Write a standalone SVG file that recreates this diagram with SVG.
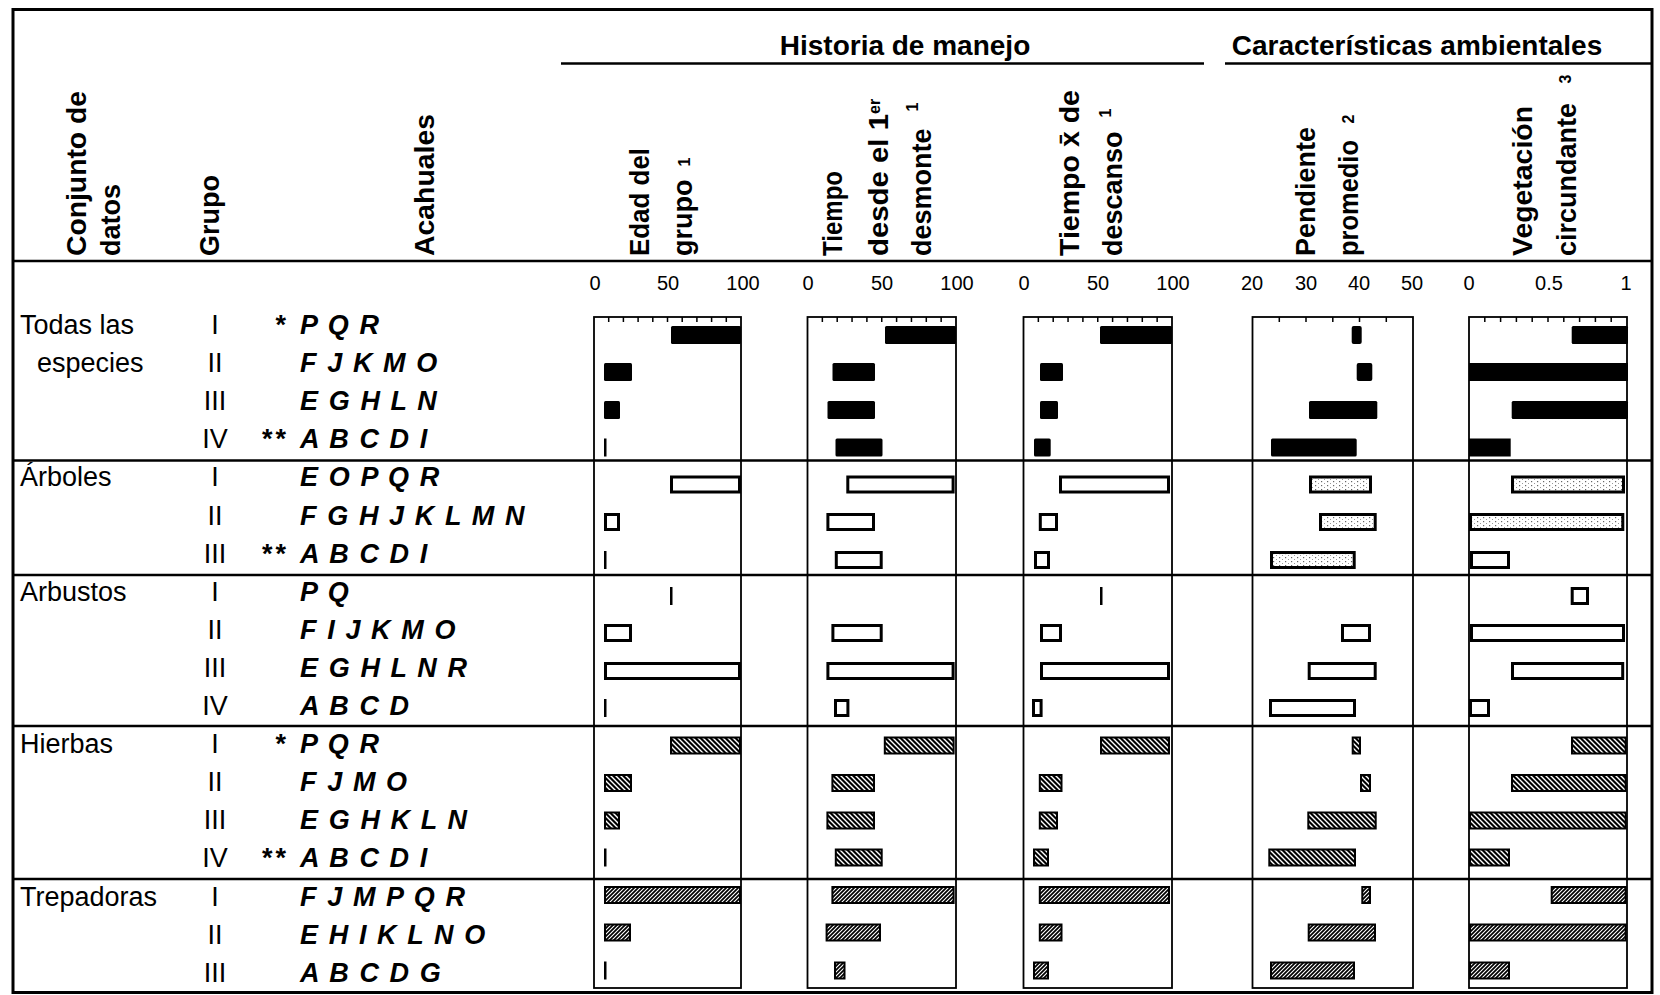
<svg xmlns="http://www.w3.org/2000/svg" width="1660" height="995" viewBox="0 0 1660 995">
<style>
text{font-family:"Liberation Sans",Arial,"DejaVu Sans",sans-serif;fill:#000}
.hdr{font-weight:bold;font-size:27px}
.ttl{font-weight:bold;font-size:28px;text-anchor:middle}
.sup{font-weight:bold;font-size:16px;text-anchor:middle}
.lab{font-size:27px}
.num{font-size:27px;text-anchor:middle}
.ast{font-size:27px;font-weight:bold;text-anchor:end;letter-spacing:3px}
.acs{font-size:27px;font-weight:bold;font-style:italic;letter-spacing:1.6px}
.ax{font-size:20px;text-anchor:middle}
.frame{fill:none;stroke:#000;stroke-width:3}
.rule{stroke:#000;stroke-width:2.5}
.box{fill:none;stroke:#000;stroke-width:1.8}
.tk{stroke:#000;stroke-width:1.5}
.blk{fill:#000}
.opn{fill:#fff;stroke:#000;stroke-width:3}
.stp{fill:url(#st);stroke:#000;stroke-width:3}
.hb{fill:url(#hB);stroke:#000;stroke-width:2}
.hf{fill:url(#hF);stroke:#000;stroke-width:2}
</style>
<defs>
<pattern id="hB" width="5" height="5" patternUnits="userSpaceOnUse">
<rect width="5" height="5" fill="#000"/>
<path d="M0,0 L5,5 M-1,4 L1,6 M4,-1 L6,1" stroke="#fff" stroke-width="1.4"/>
</pattern>
<pattern id="hF" width="4" height="4" patternUnits="userSpaceOnUse">
<rect width="4" height="4" fill="#000"/>
<path d="M0,4 L4,0 M-1,1 L1,-1 M3,5 L5,3" stroke="#fff" stroke-width="1.1"/>
</pattern>
<pattern id="st" width="6" height="4" patternUnits="userSpaceOnUse">
<rect width="6" height="4" fill="#fff"/>
<rect x="1" y="1" width="1.2" height="1.2" fill="#666"/>
<rect x="4" y="3" width="1" height="1" fill="#999"/>
</pattern>
</defs>
<rect width="1660" height="995" fill="#fff"/>

<g id="frame">
<rect class="frame" x="13" y="9.5" width="1639" height="983"/>
<line class="rule" x1="13" y1="261" x2="1652" y2="261"/>
<line class="rule" x1="561" y1="63.5" x2="1204" y2="63.5"/>
<line class="rule" x1="1225" y1="63.5" x2="1652" y2="63.5"/>
</g>

<g id="header">
<text class="ttl" x="905" y="55">Historia de manejo</text>
<text class="ttl" x="1417" y="55">Características ambientales</text>
<text class="hdr" transform="translate(86,256) rotate(-90)" textLength="165" lengthAdjust="spacingAndGlyphs">Conjunto de</text>
<text class="hdr" transform="translate(120,256) rotate(-90)">datos</text>
<text class="hdr" transform="translate(219,256) rotate(-90)">Grupo</text>
<text class="hdr" transform="translate(434,256) rotate(-90)" textLength="142" lengthAdjust="spacingAndGlyphs">Acahuales</text>
<text class="hdr" transform="translate(649,256) rotate(-90)" textLength="108" lengthAdjust="spacingAndGlyphs">Edad del</text>
<text class="hdr" transform="translate(692,256) rotate(-90)">grupo</text>
<text class="sup" transform="translate(690,162) rotate(-90)">1</text>
<text class="hdr" transform="translate(842,256) rotate(-90)" textLength="85" lengthAdjust="spacingAndGlyphs">Tiempo</text>
<text class="hdr" transform="translate(888,256) rotate(-90)"><tspan textLength="142" lengthAdjust="spacingAndGlyphs">desde el 1</tspan><tspan font-size="16" dy="-8">er</tspan></text>
<text class="hdr" transform="translate(931,256) rotate(-90)">desmonte</text>
<text class="sup" transform="translate(918,107) rotate(-90)">1</text>
<text class="hdr" transform="translate(1079,256) rotate(-90)" textLength="166" lengthAdjust="spacingAndGlyphs">Tiempo x̄ de</text>
<text class="hdr" transform="translate(1122,256) rotate(-90)">descanso</text>
<text class="sup" transform="translate(1111,113) rotate(-90)">1</text>
<text class="hdr" transform="translate(1315,256) rotate(-90)">Pendiente</text>
<text class="hdr" transform="translate(1358,256) rotate(-90)" textLength="116" lengthAdjust="spacingAndGlyphs">promedio</text>
<text class="sup" transform="translate(1354,119) rotate(-90)">2</text>
<text class="hdr" transform="translate(1532,256) rotate(-90)" textLength="150" lengthAdjust="spacingAndGlyphs">Vegetación</text>
<text class="hdr" transform="translate(1576,256) rotate(-90)">circundante</text>
<text class="sup" transform="translate(1571,79) rotate(-90)">3</text>
</g>

<g id="rules">
<line class="rule" x1="13" y1="460.5" x2="1652" y2="460.5"/>
<line class="rule" x1="13" y1="575" x2="1652" y2="575"/>
<line class="rule" x1="13" y1="726" x2="1652" y2="726"/>
<line class="rule" x1="13" y1="879" x2="1652" y2="879"/>
</g>

<g id="set-todas">
<text class="lab" x="20" y="334">Todas las</text>
<text class="lab" x="37" y="372.1">especies</text>
<text class="num" x="215" y="334">I</text>
<text class="num" x="215" y="372.1">II</text>
<text class="num" x="215" y="410.2">III</text>
<text class="num" x="215" y="448.3">IV</text>
<text class="ast" x="289" y="334">*</text>
<text class="ast" x="289" y="448.3">**</text>
<text class="acs" x="300" y="334">P Q R</text>
<text class="acs" x="300" y="372.1">F J K M O</text>
<text class="acs" x="300" y="410.2">E G H L N</text>
<text class="acs" x="300" y="448.3">A B C D I</text>
</g>

<g id="set-arboles">
<text class="lab" x="20" y="486.4">Árboles</text>
<text class="num" x="215" y="486.4">I</text>
<text class="num" x="215" y="524.5">II</text>
<text class="num" x="215" y="562.6">III</text>
<text class="ast" x="289" y="562.6">**</text>
<text class="acs" x="300" y="486.4">E O P Q R</text>
<text class="acs" x="300" y="524.5">F G H J K L M N</text>
<text class="acs" x="300" y="562.6">A B C D I</text>
</g>

<g id="set-arbustos">
<text class="lab" x="20" y="600.7">Arbustos</text>
<text class="num" x="215" y="600.7">I</text>
<text class="num" x="215" y="638.8">II</text>
<text class="num" x="215" y="676.9">III</text>
<text class="num" x="215" y="715">IV</text>
<text class="acs" x="300" y="600.7">P Q</text>
<text class="acs" x="300" y="638.8">F I J K M O</text>
<text class="acs" x="300" y="676.9">E G H L N R</text>
<text class="acs" x="300" y="715">A B C D</text>
</g>

<g id="set-hierbas">
<text class="lab" x="20" y="753.1">Hierbas</text>
<text class="num" x="215" y="753.1">I</text>
<text class="num" x="215" y="791.2">II</text>
<text class="num" x="215" y="829.3">III</text>
<text class="num" x="215" y="867.4">IV</text>
<text class="ast" x="289" y="753.1">*</text>
<text class="ast" x="289" y="867.4">**</text>
<text class="acs" x="300" y="753.1">P Q R</text>
<text class="acs" x="300" y="791.2">F J M O</text>
<text class="acs" x="300" y="829.3">E G H K L N</text>
<text class="acs" x="300" y="867.4">A B C D I</text>
</g>

<g id="set-trepadoras">
<text class="lab" x="20" y="905.5">Trepadoras</text>
<text class="num" x="215" y="905.5">I</text>
<text class="num" x="215" y="943.6">II</text>
<text class="num" x="215" y="981.7">III</text>
<text class="acs" x="300" y="905.5">F J M P Q R</text>
<text class="acs" x="300" y="943.6">E H I K L N O</text>
<text class="acs" x="300" y="981.7">A B C D G</text>
</g>

<g id="panel-edad">
<text class="ax" x="595" y="290">0</text>
<text class="ax" x="668" y="290">50</text>
<text class="ax" x="743" y="290">100</text>
<rect class="box" x="594" y="317" width="147" height="671"/>
<path class="tk" d="M608.7,317v5M623.4,317v5M638.1,317v5M652.8,317v5M667.5,317v5M682.2,317v5M696.9,317v5M711.6,317v5M726.3,317v5"/>
<rect class="blk" x="671" y="326" width="70" height="18" rx="1.5"/>
<rect class="blk" x="604" y="363" width="28" height="18" rx="1.5"/>
<rect class="blk" x="604" y="401" width="16" height="18" rx="1.5"/>
<rect class="blk" x="604" y="438.5" width="2.5" height="18"/>
<rect class="opn" x="671.5" y="477" width="68" height="15"/>
<rect class="opn" x="605.5" y="514.5" width="13" height="15"/>
<rect class="blk" x="604" y="551" width="2.5" height="18"/>
<rect class="blk" x="670" y="587" width="2.5" height="18"/>
<rect class="opn" x="605.5" y="625.5" width="25" height="15"/>
<rect class="opn" x="605.5" y="663.5" width="134" height="15"/>
<rect class="blk" x="604" y="699" width="2.5" height="18"/>
<rect class="hb" x="671" y="737.5" width="69" height="16"/>
<rect class="hb" x="605" y="775" width="26" height="16"/>
<rect class="hb" x="605" y="812.5" width="14" height="16"/>
<rect class="blk" x="604" y="848.5" width="2.5" height="18"/>
<rect class="hf" x="605" y="887" width="135" height="16"/>
<rect class="hf" x="605" y="924.5" width="25" height="16"/>
<rect class="blk" x="604" y="961.5" width="2.5" height="18"/>
</g>

<g id="panel-desmonte">
<text class="ax" x="808" y="290">0</text>
<text class="ax" x="882" y="290">50</text>
<text class="ax" x="957" y="290">100</text>
<rect class="box" x="807.5" y="317" width="148.5" height="671"/>
<path class="tk" d="M822.35,317v5M837.2,317v5M852.05,317v5M866.9,317v5M881.75,317v5M896.6,317v5M911.45,317v5M926.3,317v5M941.15,317v5"/>
<rect class="blk" x="885" y="326" width="71" height="18" rx="1.5"/>
<rect class="blk" x="832.5" y="363" width="42.5" height="18" rx="1.5"/>
<rect class="blk" x="827.5" y="401" width="47.5" height="18" rx="1.5"/>
<rect class="blk" x="835.5" y="438.5" width="47" height="18" rx="1.5"/>
<rect class="opn" x="847.8" y="477" width="105.3" height="15"/>
<rect class="opn" x="827.9" y="514.5" width="45.6" height="15"/>
<rect class="opn" x="836.3" y="552.5" width="44.9" height="15"/>
<rect class="opn" x="832.9" y="625.5" width="48.3" height="15"/>
<rect class="opn" x="827.9" y="663.5" width="125.2" height="15"/>
<rect class="opn" x="835.5" y="700.5" width="12.4" height="15"/>
<rect class="hb" x="884.8" y="737.5" width="68.8" height="16"/>
<rect class="hb" x="832.4" y="775" width="41.6" height="16"/>
<rect class="hb" x="827.4" y="812.5" width="46.6" height="16"/>
<rect class="hb" x="835.8" y="849.5" width="45.9" height="16"/>
<rect class="hf" x="832.4" y="887" width="121.2" height="16"/>
<rect class="hf" x="826.6" y="924.5" width="53.4" height="16"/>
<rect class="hf" x="835" y="962.5" width="9.5" height="16"/>
</g>

<g id="panel-descanso">
<text class="ax" x="1024" y="290">0</text>
<text class="ax" x="1098" y="290">50</text>
<text class="ax" x="1173" y="290">100</text>
<rect class="box" x="1023.5" y="317" width="148.5" height="671"/>
<path class="tk" d="M1038.35,317v5M1053.2,317v5M1068.05,317v5M1082.9,317v5M1097.75,317v5M1112.6,317v5M1127.45,317v5M1142.3,317v5M1157.15,317v5"/>
<rect class="blk" x="1100" y="326" width="72" height="18" rx="1.5"/>
<rect class="blk" x="1040" y="363" width="23" height="18" rx="1.5"/>
<rect class="blk" x="1040" y="401" width="18" height="18" rx="1.5"/>
<rect class="blk" x="1034" y="438.5" width="16.7" height="18" rx="1.5"/>
<rect class="opn" x="1060.5" y="477" width="108" height="15"/>
<rect class="opn" x="1040.3" y="514.5" width="16.2" height="15"/>
<rect class="opn" x="1035.5" y="552.5" width="13" height="15"/>
<rect class="blk" x="1100" y="587" width="2.5" height="18"/>
<rect class="opn" x="1041.5" y="625.5" width="19" height="15"/>
<rect class="opn" x="1041.5" y="663.5" width="127" height="15"/>
<rect class="opn" x="1033.5" y="700.5" width="7.6" height="15"/>
<rect class="hb" x="1101" y="737.5" width="68" height="16"/>
<rect class="hb" x="1039.8" y="775" width="21.7" height="16"/>
<rect class="hb" x="1039.8" y="812.5" width="17.2" height="16"/>
<rect class="hb" x="1034" y="849.5" width="14" height="16"/>
<rect class="hf" x="1039.8" y="887" width="129.2" height="16"/>
<rect class="hf" x="1039.8" y="924.5" width="21.7" height="16"/>
<rect class="hf" x="1034" y="962.5" width="14" height="16"/>
</g>

<g id="panel-pendiente">
<text class="ax" x="1252" y="290">20</text>
<text class="ax" x="1306" y="290">30</text>
<text class="ax" x="1359" y="290">40</text>
<text class="ax" x="1412" y="290">50</text>
<rect class="box" x="1252.5" y="317" width="160.5" height="671"/>
<path class="tk" d="M1279.3,317v5M1306,317v5M1332.8,317v5M1359.5,317v5M1386.3,317v5"/>
<rect class="blk" x="1351.7" y="326" width="10" height="18" rx="2"/>
<rect class="blk" x="1356.7" y="363" width="15.6" height="18" rx="2"/>
<rect class="blk" x="1309" y="401" width="68.3" height="18" rx="1.5"/>
<rect class="blk" x="1271" y="438.5" width="85.7" height="18" rx="1.5"/>
<rect class="stp" x="1310.5" y="477" width="60" height="15"/>
<rect class="stp" x="1320.5" y="514.5" width="54.7" height="15"/>
<rect class="stp" x="1271.5" y="552.5" width="82.7" height="15"/>
<rect class="opn" x="1342.5" y="625.5" width="27" height="15"/>
<rect class="opn" x="1309.2" y="663.5" width="66" height="15"/>
<rect class="opn" x="1270.5" y="700.5" width="84" height="15"/>
<rect class="hb" x="1352.7" y="737.5" width="7.3" height="16"/>
<rect class="hb" x="1361" y="775" width="9" height="16"/>
<rect class="hb" x="1308.3" y="812.5" width="67.4" height="16"/>
<rect class="hb" x="1269.3" y="849.5" width="85.7" height="16"/>
<rect class="hf" x="1362.3" y="887" width="7.7" height="16"/>
<rect class="hf" x="1308.7" y="924.5" width="66.3" height="16"/>
<rect class="hf" x="1271" y="962.5" width="83" height="16"/>
</g>

<g id="panel-vegetacion">
<text class="ax" x="1469" y="290">0</text>
<text class="ax" x="1549" y="290">0.5</text>
<text class="ax" x="1626" y="290">1</text>
<rect class="box" x="1469" y="317" width="158" height="671"/>
<path class="tk" d="M1484.8,317v5M1500.6,317v5M1516.4,317v5M1532.2,317v5M1548,317v5M1563.8,317v5M1579.6,317v5M1595.4,317v5M1611.2,317v5"/>
<rect class="blk" x="1571.7" y="326" width="56.3" height="18" rx="1.5"/>
<rect class="blk" x="1469" y="363" width="159" height="18"/>
<rect class="blk" x="1511.7" y="401" width="116.3" height="18" rx="1.5"/>
<rect class="blk" x="1469" y="438.5" width="41.7" height="18"/>
<rect class="stp" x="1512.5" y="477" width="111" height="15"/>
<rect class="stp" x="1470.5" y="514.5" width="152.3" height="15"/>
<rect class="opn" x="1471.5" y="552.5" width="37" height="15"/>
<rect class="opn" x="1572.2" y="588.5" width="15.3" height="15"/>
<rect class="opn" x="1471.5" y="625.5" width="152" height="15"/>
<rect class="opn" x="1512.5" y="663.5" width="110.2" height="15"/>
<rect class="opn" x="1470.5" y="700.5" width="18" height="15"/>
<rect class="hb" x="1572" y="737.5" width="53.7" height="16"/>
<rect class="hb" x="1512" y="775" width="113.7" height="16"/>
<rect class="hb" x="1470" y="812.5" width="155.7" height="16"/>
<rect class="hb" x="1470" y="849.5" width="39" height="16"/>
<rect class="hf" x="1551.7" y="887" width="74" height="16"/>
<rect class="hf" x="1470" y="924.5" width="155.7" height="16"/>
<rect class="hf" x="1470" y="962.5" width="39" height="16"/>
</g>
</svg>
